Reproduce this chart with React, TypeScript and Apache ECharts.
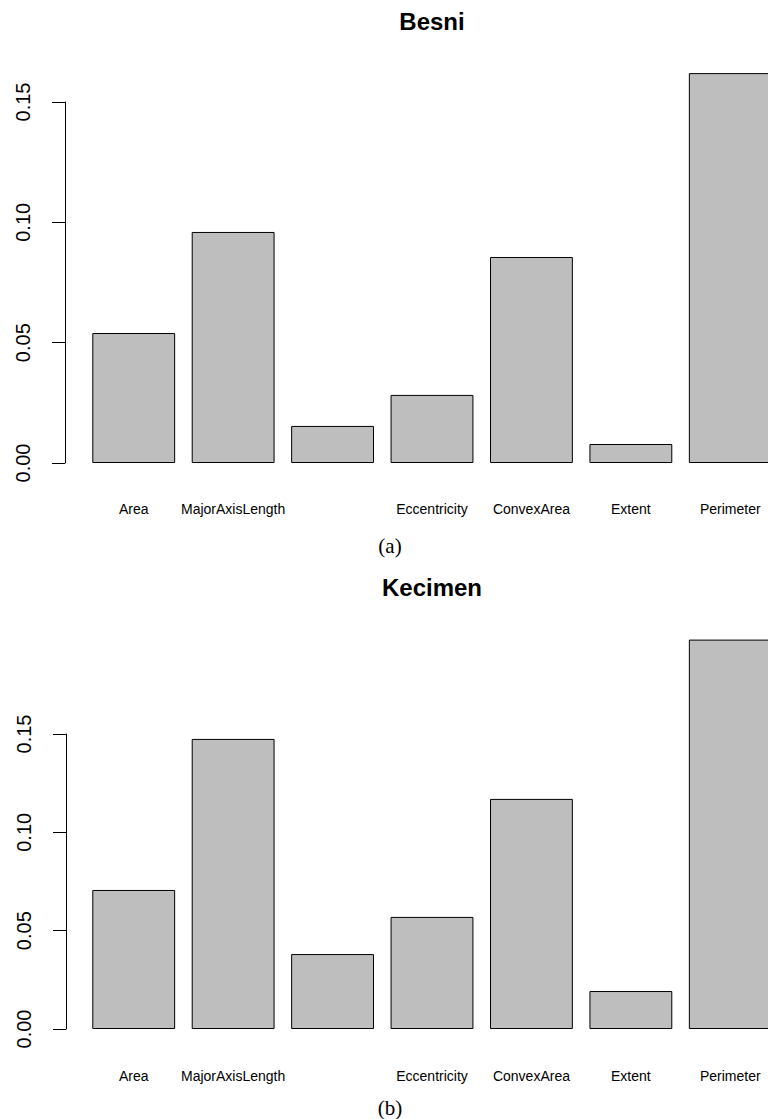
import React, { useEffect, useRef } from "react";
import * as echarts from "echarts";

// Feature importance per raisin variety
const categories = [
  "Area",
  "MajorAxisLength",
  "MinorAxisLength",
  "Eccentricity",
  "ConvexArea",
  "Extent",
  "Perimeter",
];
const besniValues = [0.054, 0.096, 0.0154, 0.0283, 0.0856, 0.0079, 0.162];
const kecimenValues = [0.0707, 0.1475, 0.0381, 0.057, 0.117, 0.0193, 0.198];
const yTickMax = 0.15;
const yTickStep = 0.05;
const panelTitles = ["Besni", "Kecimen"];
const panelCaptions = ["(a)", "(b)"];

const SANS = "'Liberation Sans', Arial, Helvetica, sans-serif";
const SERIF = "'Liberation Serif', 'Times New Roman', serif";

// The plotting region runs past the right edge of the page, so the chart
// canvas is wider than the visible frame, which crops it.
const FRAME_W = 768;
const FRAME_H = 1119;
const CANVAS_W = 800;

export default function App() {
  const ref = useRef<HTMLDivElement>(null);

  useEffect(() => {
    if (!ref.current) return;
    const chart = echarts.init(ref.current, null, { renderer: "svg" });

    const panels = [
      { top: 102, height: 361, data: besniValues, titleY: 21, captionY: 546, labelMargin: 39, offset: 19 },
      { top: 734, height: 295, data: kecimenValues, titleY: 587, captionY: 1108, labelMargin: 40, offset: 18 },
    ];

    const grid = panels.map((p) => ({
      left: 84,
      width: 696,
      top: p.top,
      height: p.height,
      containLabel: false,
    }));

    const xAxis = panels.map((p, i) => ({
      type: "category" as const,
      gridIndex: i,
      data: categories,
      axisLine: { show: false },
      axisTick: { show: false },
      axisLabel: {
        interval: (index: number) => index !== 2,
        margin: p.labelMargin,
        fontFamily: SANS,
        fontSize: 14,
        color: "#000",
      },
    }));

    const yAxis = panels.map((p, i) => ({
      type: "value" as const,
      gridIndex: i,
      min: 0,
      max: yTickMax,
      interval: yTickStep,
      offset: p.offset,
      splitLine: { show: false },
      axisLine: { show: true, lineStyle: { color: "#000", width: 1 } },
      axisTick: { show: true, length: 13, lineStyle: { color: "#000", width: 1 } },
      axisLabel: {
        rotate: 90,
        margin: 32,
        fontFamily: SANS,
        fontSize: 20,
        color: "#000",
        formatter: (v: number) => v.toFixed(2),
      },
    }));

    const series = panels.map((p, i) => ({
      type: "bar" as const,
      xAxisIndex: i,
      yAxisIndex: i,
      data: p.data,
      clip: false,
      barCategoryGap: "16.67%",
      itemStyle: { color: "#bebebe", borderColor: "#000", borderWidth: 1 },
      emphasis: { disabled: true },
    }));

    const graphic: any[] = [];
    panels.forEach((p, i) => {
      graphic.push({
        type: "text",
        x: 432,
        y: p.titleY,
        style: {
          text: panelTitles[i],
          align: "center",
          verticalAlign: "middle",
          font: `bold 24px ${SANS}`,
          fill: "#000",
        },
      });
      graphic.push({
        type: "text",
        x: 390,
        y: p.captionY,
        style: {
          text: panelCaptions[i],
          align: "center",
          verticalAlign: "middle",
          font: `21px ${SERIF}`,
          fill: "#000",
        },
      });
    });

    chart.setOption({
      animation: false,
      backgroundColor: "#fff",
      grid,
      xAxis,
      yAxis,
      series,
      graphic,
    });

    return () => chart.dispose();
  }, []);

  return (
    <div
      style={{
        position: "absolute",
        left: 0,
        top: 0,
        width: FRAME_W,
        height: FRAME_H,
        overflow: "hidden",
        background: "#fff",
      }}
    >
      <div ref={ref} style={{ width: CANVAS_W, height: FRAME_H }} />
    </div>
  );
}
